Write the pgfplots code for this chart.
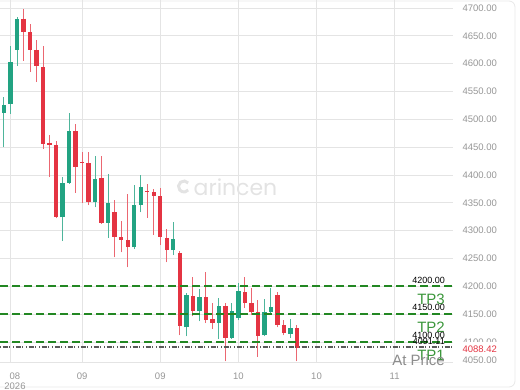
\documentclass[border=0pt]{standalone}
\usepackage{pgfplots}
\pgfplotsset{compat=1.18}
\usepackage{pgfplotstable}
\usepackage{fontspec}
\setmainfont{Liberation Sans}
\newfontfamily\wmfont{Poppins}
\definecolor{cg}{RGB}{34,163,130}
\definecolor{cr}{RGB}{228,52,66}
\definecolor{tpg}{RGB}{34,135,34}
\definecolor{tpt}{RGB}{58,150,58}
\definecolor{lab}{RGB}{150,150,150}
\definecolor{grd}{RGB}{228,228,228}

\pgfplotstableread{
x o h l c
0 4512 4540 4450 4526
1 4528 4632 4510 4603
2 4625 4684 4596 4681
9 4324 4396 4281 4386
10 4386 4512 4384 4479
14 4351 4434 4342 4393
16 4314 4402 4287 4350
20 4270 4382 4267 4346
21 4346 4400 4333 4378
26 4265 4315 4256 4285
28 4126 4188 4110 4184
30 4155 4195 4137 4180
33 4134 4179 4105 4164
35 4107 4170 4105 4155
36 4143 4206 4139 4191
40 4112 4177 4110 4153
41 4153 4197 4151 4162
44 4114 4141 4107 4125
}\greentab

\pgfplotstableread{
x o h l c
3 4681 4699 4605 4657
4 4657 4672 4585 4625
5 4625 4643 4567 4596
6 4594 4632 4447 4456
7 4458 4472 4396 4454
8 4454 4461 4322 4324
11 4479 4492 4368 4414
12 4423 4441 4350 4421
13 4421 4441 4346 4351
15 4395 4434 4312 4314
17 4333 4355 4252 4288
18 4288 4317 4261 4283
19 4283 4366 4234 4270
22 4371 4384 4323 4369
23 4369 4375 4292 4362
24 4362 4377 4274 4288
25 4287 4303 4243 4265
27 4260 4263 4112 4128
29 4182 4216 4146 4155
31 4180 4225 4134 4139
32 4141 4170 4123 4134
34 4164 4170 4065 4108
37 4189 4216 4161 4170
38 4170 4197 4148 4153
39 4153 4175 4073 4110
42 4184 4189 4126 4130
43 4130 4139 4112 4116
45 4125 4130 4065 4088.42
}\redtab

\begin{document}
\begin{tikzpicture}
\path[use as bounding box] (0,0) rectangle (520pt,390pt);
\draw[gray!18, line width=0.8pt, rounded corners=6pt] (-10pt,3pt) rectangle (515pt,389pt);
% watermark
\draw[gray!22, line width=3pt] ([shift={(40:5.5pt)}]184pt,203.5pt) arc (40:320:5.5pt);
\node[text=gray!22, font=\wmfont\fontsize{22}{22}\selectfont] at (235.5pt,203pt) {arincen};

\begin{axis}[
  at={(0pt,28pt)}, anchor=south west,
  width=453pt, height=362pt, scale only axis,
  xmin=-0.614, xmax=68.96, ymin=4064, ymax=4714.5,
  clip=false,
  axis x line*=bottom, axis y line*=right,
  x axis line style={grd, -, line width=0.8pt},
  y axis line style={draw=none},
  xtick={0.95,12,24,36,48,60},
  xticklabels={,09,09,10,10,11},
  ytick={4100,4150,...,4700},
  grid=major, major grid style={grd, line width=0.8pt},
  major tick length=0pt, tick style={draw=none},
  xticklabel style={anchor=base, yshift=-18pt, text=lab, font=\fontsize{9.5}{10}\selectfont},
  yticklabel style={anchor=west, xshift=6pt, text=lab, font=\fontsize{9.5}{10}\selectfont},
  /pgf/number format/.cd, fixed, fixed zerofill, precision=2, 1000 sep={}, assume math mode=true,
]
% wicks
\addplot[cg!80, line width=1pt, -, quiver={u=0, v=\thisrow{h}-\thisrow{l}}] table[x=x, y=l] {\greentab};
\addplot[cr!75, line width=1pt, -, quiver={u=0, v=\thisrow{h}-\thisrow{l}}] table[x=x, y=l] {\redtab};
% bodies
\addplot[cg, line width=4.4pt, -, quiver={u=0, v=\thisrow{c}-\thisrow{o}}] table[x=x, y=o] {\greentab};
\addplot[cr, line width=4.4pt, -, quiver={u=0, v=\thisrow{c}-\thisrow{o}}] table[x=x, y=o] {\redtab};

% target lines
\addplot[tpg, line width=2pt, dash pattern=on 8pt off 4pt] coordinates {(-0.614,4200) (68.96,4200)};
\addplot[tpg, line width=2pt, dash pattern=on 8pt off 4pt] coordinates {(-0.614,4150) (68.96,4150)};
\addplot[tpg, line width=2pt, dash pattern=on 8pt off 4pt] coordinates {(-0.614,4100) (68.96,4100)};
\addplot[gray!70!black, line width=1.2pt, dash pattern=on 1pt off 1.5pt on 5pt off 1.5pt on 1pt off 3pt] coordinates {(-0.614,4091.11) (68.96,4091.11)};

\node[anchor=east, inner sep=0pt, font=\fontsize{9}{9}\selectfont] at (axis cs:67.73,4211.3) {4200.00};
\node[anchor=east, inner sep=0pt, text=tpt, font=\fontsize{15}{15}\selectfont] at (axis cs:67.73,4177.2) {TP3};
\node[anchor=east, inner sep=0pt, font=\fontsize{9}{9}\selectfont] at (axis cs:67.73,4162.8) {4150.00};
\node[anchor=east, inner sep=0pt, text=tpt, font=\fontsize{15}{15}\selectfont] at (axis cs:67.73,4126.9) {TP2};
\node[anchor=east, inner sep=0pt, font=\fontsize{9}{9}\selectfont] at (axis cs:67.73,4112.5) {4100.00};
\node[anchor=east, inner sep=0pt, font=\fontsize{9}{9}\selectfont] at (axis cs:67.73,4101.7) {4091.11};
\node[anchor=east, inner sep=0pt, text=tpt, font=\fontsize{15}{15}\selectfont] at (axis cs:67.73,4076.6) {TP1};
\node[anchor=east, inner sep=0pt, text=gray!90, font=\fontsize{15}{15}\selectfont] at (axis cs:67.73,4067.6) {At Price};

\node[anchor=west, xshift=6pt, text=lab, font=\fontsize{9.5}{10}\selectfont] at (axis cs:68.96,4067.6) {4050.00};
\node[anchor=west, xshift=6pt, fill=white, text=cr, font=\fontsize{9.5}{10}\selectfont] at (axis cs:68.96,4087.4) {4088.42};
\end{axis}
\node[anchor=base, text=lab, font=\fontsize{9.5}{10}\selectfont] at (15pt,10pt) {08};
\node[anchor=base, text=lab, font=\fontsize{9.5}{10}\selectfont] at (15pt,0.8pt) {2026};
\end{tikzpicture}
\end{document}
